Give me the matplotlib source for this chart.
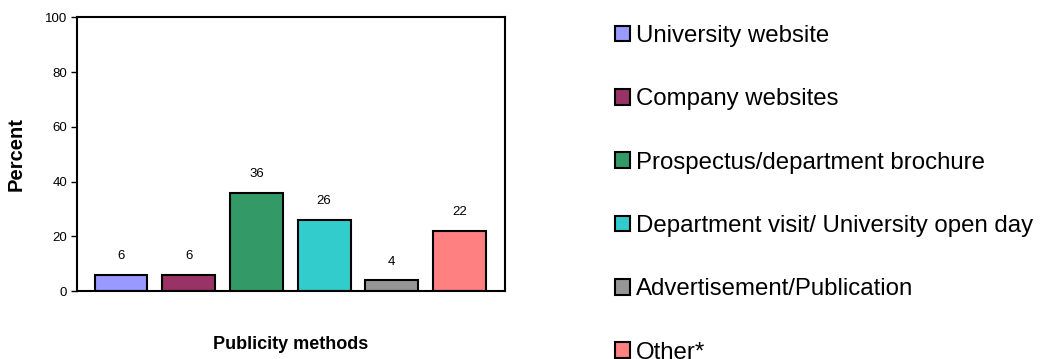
import matplotlib
matplotlib.use("Agg")
import matplotlib.pyplot as plt
from matplotlib.patches import Patch

plt.rcParams['font.family'] = ['Liberation Sans', 'DejaVu Sans']

methods = ['University website', 'Company websites', 'Prospectus/department brochure',
           'Department visit/ University open day', 'Advertisement/Publication', 'Other*']
percent = [6, 6, 36, 26, 4, 22]
colors = ['#9999FF', '#993366', '#339966', '#33CCCC', '#969696', '#FF8080']
yticks = [0, 20, 40, 60, 80, 100]

fig = plt.figure(figsize=(10.41, 3.59), dpi=100)
ax = fig.add_axes([0.074, 0.189, 0.411, 0.763])

xs = range(len(percent))
ax.bar(xs, percent, width=0.78, color=colors, edgecolor='black', linewidth=1.5)
for x, v in zip(xs, percent):
    ax.annotate(str(v), (x, v), xytext=(0, 9), textcoords='offset points',
                ha='center', va='bottom', fontsize=9.5)

ax.set_xlim(-0.65, 5.67)
ax.set_ylim(0, 100)
ax.set_yticks(yticks)
ax.set_xticks([])
ax.tick_params(axis='y', direction='out', length=4, width=1, labelsize=9.5, pad=3)
for s in ax.spines.values():
    s.set_linewidth(1.5)

ax.set_ylabel('Percent', fontsize=14.5, fontweight='bold', labelpad=14)
ax.set_xlabel('Publicity methods', fontsize=13, fontweight='bold', labelpad=32)

handles = [Patch(facecolor=c, edgecolor='black', linewidth=1.5) for c in colors]
fig.legend(handles, methods, loc='upper left', bbox_to_anchor=(615 / 1041, 1 - 25 / 359),
           frameon=False, fontsize=17.3, borderpad=0, borderaxespad=0,
           handlelength=0.62, handleheight=0.62, handletextpad=0.25, labelspacing=1.72)

fig.savefig('out.png', dpi=100)
